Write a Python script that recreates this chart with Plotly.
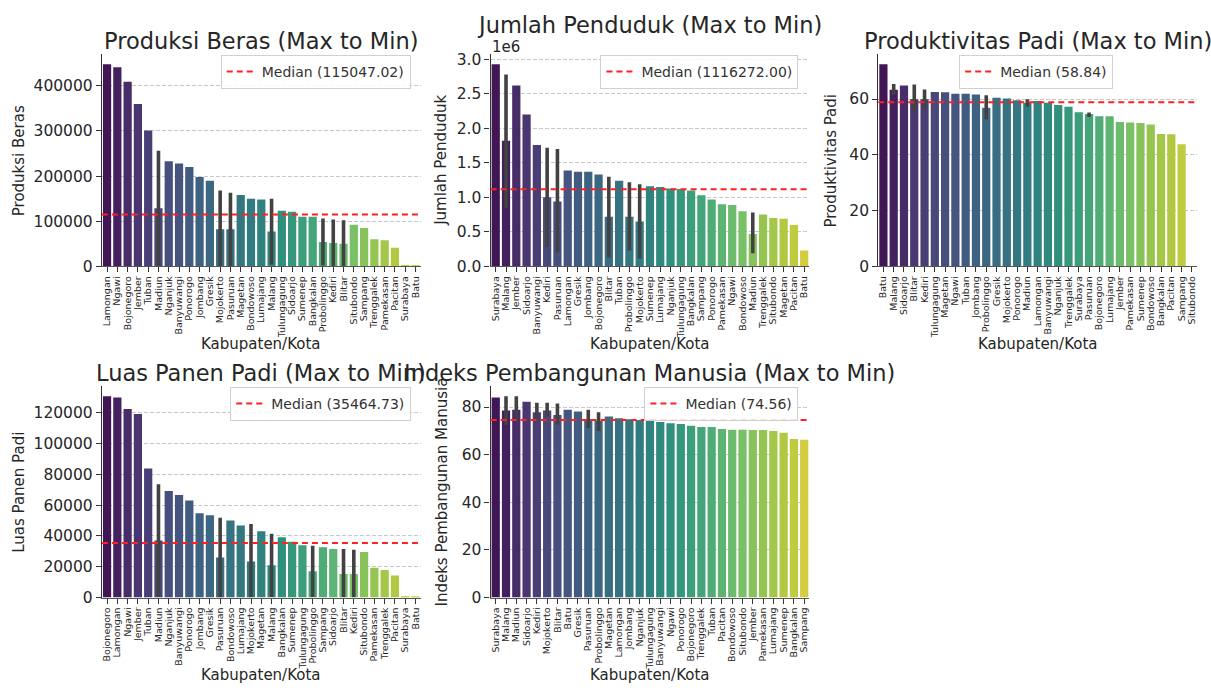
import colorsys
import plotly.graph_objects as go
import plotly.colors as pc

# ---------------- data ----------------
# Produksi Beras
beras_names = ["Lamongan", "Ngawi", "Bojonegoro", "Jember", "Tuban", "Madiun", "Nganjuk", "Banyuwangi",
               "Ponorogo", "Jombang", "Gresik", "Mojokerto", "Pasuruan", "Magetan", "Bondowoso", "Lumajang",
               "Malang", "Tulungagung", "Sidoarjo", "Sumenep", "Bangkalan", "Probolinggo", "Kediri", "Blitar",
               "Situbondo", "Sampang", "Trenggalek", "Pamekasan", "Pacitan", "Surabaya", "Batu"]
beras_vals = [448000, 441000, 409000, 360000, 301000, 129000, 233000, 228000, 220000, 198000, 190000,
              82000, 82000, 158000, 150000, 148000, 77000, 123000, 121000, 110000, 110000, 54000, 52000,
              50000, 92000, 85000, 60000, 58000, 41000, 3000, 1500]
beras_hi = {"Madiun": 256000, "Mojokerto": 168000, "Pasuruan": 163000, "Malang": 150000,
            "Probolinggo": 106000, "Kediri": 104000, "Blitar": 102000}
beras_lo = {"Madiun": 2000, "Mojokerto": 1000, "Pasuruan": 1000, "Malang": 4000,
            "Probolinggo": 2000, "Kediri": 500, "Blitar": 500}
beras_median = 115047.02

# Jumlah Penduduk
pend_names = ["Surabaya", "Malang", "Jember", "Sidoarjo", "Banyuwangi", "Kediri", "Pasuruan", "Lamongan",
              "Gresik", "Jombang", "Bojonegoro", "Blitar", "Tuban", "Probolinggo", "Mojokerto", "Sumenep",
              "Lumajang", "Nganjuk", "Tulungagung", "Bangkalan", "Sampang", "Ponorogo", "Pamekasan", "Ngawi",
              "Bondowoso", "Madiun", "Trenggalek", "Situbondo", "Magetan", "Pacitan", "Batu"]
pend_vals = [2930000, 1820000, 2620000, 2200000, 1760000, 1000000, 940000, 1390000, 1370000, 1370000,
             1330000, 720000, 1240000, 720000, 650000, 1160000, 1150000, 1130000, 1120000, 1100000,
             1030000, 970000, 900000, 890000, 800000, 470000, 750000, 700000, 690000, 600000, 230000]
pend_hi = {"Malang": 2780000, "Kediri": 1720000, "Pasuruan": 1700000, "Blitar": 1300000,
           "Probolinggo": 1220000, "Mojokerto": 1190000, "Madiun": 780000}
pend_lo = {"Malang": 850000, "Kediri": 280000, "Pasuruan": 200000, "Blitar": 130000,
           "Probolinggo": 230000, "Mojokerto": 110000, "Madiun": 190000}
pend_median = 1116272.00

# Produktivitas Padi
prod_names = ["Batu", "Malang", "Sidoarjo", "Blitar", "Kediri", "Tulungagung", "Magetan", "Ngawi", "Tuban",
              "Jombang", "Probolinggo", "Gresik", "Mojokerto", "Ponorogo", "Madiun", "Lamongan", "Banyuwangi",
              "Nganjuk", "Trenggalek", "Surabaya", "Pasuruan", "Bojonegoro", "Lumajang", "Jember", "Pamekasan",
              "Sumenep", "Bondowoso", "Bangkalan", "Pacitan", "Sampang", "Situbondo"]
prod_vals = [72.5, 63.3, 64.9, 59.9, 59.9, 62.5, 62.4, 61.9, 61.9, 61.6, 56.9, 60.5, 60.2, 59.6, 58.6,
             59.3, 58.7, 57.9, 57.2, 55.3, 54.6, 53.8, 53.8, 51.8, 51.6, 51.4, 50.9, 47.5, 47.4, 43.8, None]
prod_hi = {"Malang": 65.4, "Blitar": 65.2, "Kediri": 63.4, "Probolinggo": 61.4, "Madiun": 59.9,
           "Pasuruan": 55.2}
prod_lo = {"Malang": 61.6, "Blitar": 55.2, "Kediri": 56.4, "Probolinggo": 52.8, "Madiun": 57.2,
           "Pasuruan": 53.6}
prod_median = 58.84

# Luas Panen Padi
luas_names = ["Bojonegoro", "Lamongan", "Ngawi", "Jember", "Tuban", "Madiun", "Nganjuk", "Banyuwangi",
              "Ponorogo", "Jombang", "Gresik", "Pasuruan", "Bondowoso", "Lumajang", "Mojokerto", "Magetan",
              "Malang", "Bangkalan", "Sumenep", "Tulungagung", "Probolinggo", "Sampang", "Sidoarjo", "Blitar",
              "Kediri", "Situbondo", "Pamekasan", "Trenggalek", "Pacitan", "Surabaya", "Batu"]
luas_vals = [130700, 130000, 122400, 119200, 83800, 37000, 69200, 66600, 63000, 54700, 53400, 26000,
             50000, 46800, 23400, 43000, 20900, 39200, 36200, 34000, 17000, 32600, 31500, 15300, 15300,
             29600, 19400, 17900, 14300, 900, 400]
luas_hi = {"Madiun": 73600, "Pasuruan": 51900, "Mojokerto": 47700, "Malang": 41500,
           "Probolinggo": 33600, "Blitar": 31500, "Kediri": 31000}
luas_lo = {"Madiun": 500, "Pasuruan": 200, "Mojokerto": 100, "Malang": 300,
           "Probolinggo": 400, "Blitar": 100, "Kediri": 100}
luas_median = 35464.73

# Indeks Pembangunan Manusia
ipm_names = ["Surabaya", "Malang", "Madiun", "Sidoarjo", "Kediri", "Mojokerto", "Blitar", "Batu", "Gresik",
             "Pasuruan", "Probolinggo", "Magetan", "Lamongan", "Jombang", "Nganjuk", "Tulungagung",
             "Banyuwangi", "Ngawi", "Ponorogo", "Bojonegoro", "Trenggalek", "Tuban", "Pacitan", "Bondowoso",
             "Situbondo", "Jember", "Pamekasan", "Lumajang", "Sumenep", "Bangkalan", "Sampang"]
ipm_vals = [84.0, 78.5, 78.9, 82.2, 77.8, 78.5, 76.7, 78.9, 78.1, 74.9, 74.1, 76.0, 75.3, 74.9, 74.5,
            74.5, 73.7, 73.2, 72.9, 72.1, 71.6, 71.6, 70.8, 70.5, 70.5, 70.3, 70.3, 69.9, 69.2, 66.6, 66.3]
ipm_hi = {"Malang": 84.5, "Madiun": 84.5, "Kediri": 81.8, "Mojokerto": 81.8, "Blitar": 81.5,
          "Pasuruan": 78.9, "Probolinggo": 77.8}
ipm_lo = {"Malang": 72.6, "Madiun": 74.2, "Kediri": 74.2, "Mojokerto": 76.0, "Blitar": 72.6,
          "Pasuruan": 71.2, "Probolinggo": 69.9}
ipm_median = 74.56

# ---------------- styling helpers ----------------
W, H = 1211, 693
FONT = "DejaVu Sans"
TXT = "#262626"


def viridis_desat(n, prop=0.75):
    bins = [(i + 1) / (n + 1) for i in range(n)]
    cols = pc.sample_colorscale("Viridis", bins)
    out = []
    for c in cols:
        r, g, b = pc.unlabel_rgb(c)
        h, l, s = colorsys.rgb_to_hls(r / 255, g / 255, b / 255)
        r2, g2, b2 = colorsys.hls_to_rgb(h, l, s * prop)
        out.append(f"rgb({r2*255:.0f},{g2*255:.0f},{b2*255:.0f})")
    return out


def px_x(v):
    return v / W


def px_y(v):
    return 1 - v / H


panels = [
    dict(names=beras_names, vals=beras_vals, hi=beras_hi, lo=beras_lo, med=beras_median,
         title="Produksi Beras (Max to Min)", ylab="Produksi Beras",
         xdom=(101, 420), ydom=(52, 268), dtick=100000, fmt="d", ticktext=None,
         title_y=39, ylab_x=18, legend_c=(315, 70)),
    dict(names=pend_names, vals=pend_vals, hi=pend_hi, lo=pend_lo, med=pend_median,
         title="Jumlah Penduduk (Max to Min)", ylab="Jumlah Penduduk",
         xdom=(490, 809), ydom=(52, 268), dtick=500000, fmt=None,
         ticktext=["0.0", "0.5", "1.0", "1.5", "2.0", "2.5", "3.0"],
         title_y=22, ylab_x=441, legend_c=(699, 70)),
    dict(names=prod_names, vals=prod_vals, hi=prod_hi, lo=prod_lo, med=prod_median,
         title="Produktivitas Padi (Max to Min)", ylab="Produktivitas Padi",
         xdom=(878, 1197), ydom=(52, 268), dtick=20, fmt="d", ticktext=None,
         title_y=39, ylab_x=831, legend_c=(1036, 70)),
    dict(names=luas_names, vals=luas_vals, hi=luas_hi, lo=luas_lo, med=luas_median,
         title="Luas Panen Padi (Max to Min)", ylab="Luas Panen Padi",
         xdom=(101, 420), ydom=(390, 605), dtick=20000, fmt="d", ticktext=None,
         title_y=377, ylab_x=18, legend_c=(320, 408)),
    dict(names=ipm_names, vals=ipm_vals, hi=ipm_hi, lo=ipm_lo, med=ipm_median,
         title="Indeks Pembangunan Manusia (Max to Min)", ylab="Indeks Pembangunan Manusia",
         xdom=(490, 809), ydom=(390, 605), dtick=20, fmt="d", ticktext=None,
         title_y=377, ylab_x=441, legend_c=(721, 408)),
]

fig = go.Figure()
annotations = []
shapes = []
layout_axes = {}

for i, p in enumerate(panels):
    k = "" if i == 0 else str(i + 1)
    xa, ya = "x" + k, "y" + k
    n = len(p["names"])
    colors = viridis_desat(n)
    plus, minus = [], []
    for name, v in zip(p["names"], p["vals"]):
        if name in p["hi"] and v is not None:
            plus.append(p["hi"][name] - v)
            minus.append(v - p["lo"][name])
        else:
            plus.append(0)
            minus.append(0)
    fig.add_trace(go.Bar(
        x=p["names"], y=p["vals"], xaxis=xa, yaxis=ya, showlegend=False,
        marker=dict(color=colors, line=dict(width=0)),
        error_y=dict(type="data", symmetric=False, array=plus, arrayminus=minus,
                     color="#424242", thickness=3.6, width=0),
        hoverinfo="x+y",
    ))
    tops = [max(v, p["hi"].get(nm, v)) for nm, v in zip(p["names"], p["vals"]) if v is not None]
    ymax = max(tops) * 1.05
    tickvals = []
    t = 0
    while t <= ymax:
        tickvals.append(t)
        t += p["dtick"]
    yax = dict(domain=[px_y(p["ydom"][1]), px_y(p["ydom"][0])], anchor=xa, range=[0, ymax],
               showline=True, linecolor="#333333", linewidth=1.2,
               ticks="outside", ticklen=5, tickcolor="#333333", tickwidth=1.2,
               tickmode="array", tickvals=tickvals, showgrid=True, gridcolor="#c8c8c8", gridwidth=1,
               griddash="4px,2px", zeroline=False,
               tickfont=dict(family=FONT, size=15.5, color=TXT))
    if p["ticktext"] is not None:
        yax["ticktext"] = p["ticktext"]
    else:
        yax["tickformat"] = p["fmt"]
    xax = dict(domain=[px_x(p["xdom"][0]), px_x(p["xdom"][1])], anchor=ya,
               type="category", range=[-0.5, n - 0.5],
               tickmode="array", tickvals=p["names"], ticktext=p["names"],
               showline=True, linecolor="#555555", linewidth=1.2,
               ticks="outside", ticklen=5, tickcolor="#333333", tickwidth=1.2,
               tickangle=-90, showgrid=False, zeroline=False,
               tickfont=dict(family=FONT, size=9.5, color=TXT))
    layout_axes["xaxis" + k] = xax
    layout_axes["yaxis" + k] = yax

    legend_name = "legend" + k
    shapes.append(dict(type="line", xref=xa + " domain", x0=0, x1=1, yref=ya, y0=p["med"], y1=p["med"],
                       line=dict(color="#ff2020", width=2, dash="6px,4px"), layer="above",
                       showlegend=True, legend=legend_name, name=f"Median ({p['med']:.2f})"))
    layout_axes[legend_name] = dict(x=px_x(p["legend_c"][0]), y=px_y(p["legend_c"][1]),
                                    xanchor="center", yanchor="middle",
                                    bgcolor="rgba(255,255,255,0.85)", bordercolor="#d0d0d0",
                                    borderwidth=1, font=dict(family=FONT, size=14, color="#333333"))

    xc = (p["xdom"][0] + p["xdom"][1]) / 2
    yc = (p["ydom"][0] + p["ydom"][1]) / 2
    annotations.append(dict(text=p["title"], x=px_x(xc), y=px_y(p["title_y"]), xref="paper", yref="paper",
                            xanchor="center", yanchor="middle", showarrow=False,
                            font=dict(family=FONT, size=22.5, color=TXT)))
    annotations.append(dict(text=p["ylab"], x=px_x(p["ylab_x"]), y=px_y(yc), xref="paper", yref="paper",
                            xanchor="center", yanchor="middle", showarrow=False, textangle=-90,
                            font=dict(family=FONT, size=15, color=TXT)))
    xlab_y = 347 if p["ydom"][0] < 300 else 684
    annotations.append(dict(text="Kabupaten/Kota", x=px_x(xc), y=px_y(xlab_y), xref="paper", yref="paper",
                            xanchor="center", yanchor="middle", showarrow=False,
                            font=dict(family=FONT, size=15, color=TXT)))

annotations.append(dict(text="1e6", x=px_x(489), y=px_y(45), xref="paper", yref="paper",
                        xanchor="left", yanchor="middle", showarrow=False,
                        font=dict(family=FONT, size=15, color=TXT)))

fig.update_layout(
    width=W, height=H, margin=dict(l=0, r=0, t=0, b=0),
    paper_bgcolor="white", plot_bgcolor="white",
    bargap=0.2, annotations=annotations, shapes=shapes,
    font=dict(family=FONT, color=TXT),
    **layout_axes,
)

fig.write_html("out.html")
